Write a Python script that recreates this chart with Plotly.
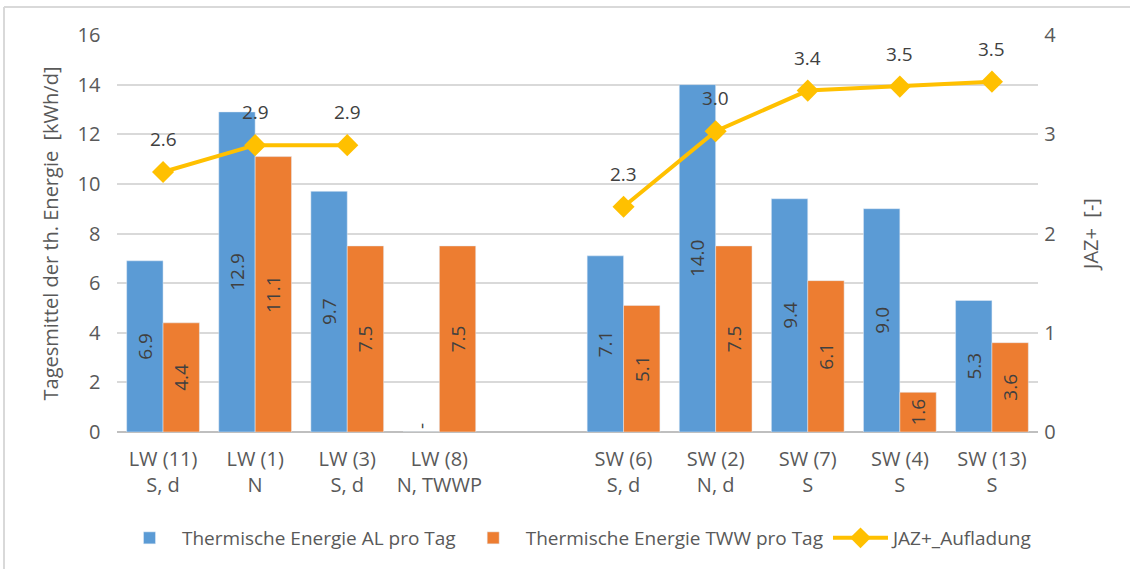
import plotly.graph_objects as go

categories = ["LW (11)<br>S, d", "LW (1)<br>N", "LW (3)<br>S, d", "LW (8)<br>N, TWWP", "",
              "SW (6)<br>S, d", "SW (2)<br>N, d", "SW (7)<br>S", "SW (4)<br>S", "SW (13)<br>S"]
al_values = [6.9, 12.9, 9.7, 0, None, 7.1, 14.0, 9.4, 9.0, 5.3]
al_labels = ["6.9", "12.9", "9.7", "-", "", "7.1", "14.0", "9.4", "9.0", "5.3"]
tww_values = [4.4, 11.1, 7.5, 7.5, None, 5.1, 7.5, 6.1, 1.6, 3.6]
jaz_values = [2.62, 2.89, 2.89, None, None, 2.27, 3.03, 3.44, 3.48, 3.53]

x = list(range(len(categories)))
BLUE = "#5B9BD5"
ORANGE = "#ED7D31"
YELLOW = "#FFC000"
TXT = "#404040"
AX = "#595959"
FONT = "Open Sans, Calibri, Liberation Sans, sans-serif"

fig = go.Figure()
fig.add_trace(go.Bar(
    x=x, y=al_values, name="Thermische Energie AL pro Tag", marker_color=BLUE,
    text=al_labels, textangle=-90,
    textposition=["inside" if v else "outside" for v in al_values],
    insidetextanchor="middle", cliponaxis=False,
    textfont=dict(color=TXT, size=19, family=FONT),
    outsidetextfont=dict(color=TXT, size=19, family=FONT),
))
fig.add_trace(go.Bar(
    x=x, y=tww_values, name="Thermische Energie TWW pro Tag", marker_color=ORANGE,
    text=[f"{v:.1f}" if v is not None else "" for v in tww_values], textangle=-90,
    textposition="inside", insidetextanchor="middle",
    textfont=dict(color=TXT, size=19, family=FONT),
))
fig.add_trace(go.Scatter(
    x=x, y=jaz_values, name="JAZ+_Aufladung", yaxis="y2", mode="lines+markers",
    line=dict(color=YELLOW, width=4), marker=dict(symbol="diamond", size=17, color=YELLOW),
    connectgaps=False, cliponaxis=False,
))

annotations = [
    dict(x=xi, y=v, xref="x", yref="y2", text=f"{v:.1f}", showarrow=False,
         yshift=33, font=dict(color=TXT, size=19, family=FONT))
    for xi, v in zip(x, jaz_values) if v is not None
]

fig.update_layout(
    width=1130, height=569,
    margin=dict(l=117, r=92, t=35, b=137),
    paper_bgcolor="white", plot_bgcolor="white",
    font=dict(family=FONT, color=AX, size=20),
    barmode="group", bargap=0.21, bargroupgap=0,
    showlegend=True,
    legend=dict(orientation="h", x=0.5, xanchor="center", y=-0.267, yanchor="middle",
                font=dict(size=19, color=AX), traceorder="normal", itemwidth=55),
    xaxis=dict(tickmode="array", tickvals=x, ticktext=categories, range=[-0.5, 9.5],
               showgrid=False, showline=False, ticks="outside", ticklen=9, tickcolor="white",
               tickfont=dict(size=20, color=AX)),
    yaxis=dict(range=[0, 16], dtick=2, showgrid=True, gridcolor="#D9D9D9", gridwidth=1.5,
               zeroline=True, zerolinecolor="#BFBFBF", zerolinewidth=1.5,
               title=dict(text="Tagesmittel der th. Energie  [kWh/d]", font=dict(size=20, color=AX), standoff=13),
               tickfont=dict(size=20, color=AX), ticksuffix="   "),
    yaxis2=dict(range=[0, 4], dtick=1, overlaying="y", side="right", showgrid=False,
                zeroline=False,
                title=dict(text="JAZ+  [-]", font=dict(size=20, color=AX), standoff=28),
                tickfont=dict(size=20, color=AX), tickprefix=" "),
    annotations=annotations,
    shapes=[
        dict(type="line", xref="paper", yref="paper",
             x0=-113/921, x1=(1130-117)/921, y0=(432-7)/397, y1=(432-7)/397,
             line=dict(color="#D9D9D9", width=2)),
        dict(type="line", xref="paper", yref="paper",
             x0=-113/921, x1=-113/921, y0=-137/397, y1=(432-7)/397,
             line=dict(color="#D9D9D9", width=2)),
    ],
)

fig.write_html("out.html", config={"displayModeBar": False},
               post_script="document.body.style.margin='0';")
